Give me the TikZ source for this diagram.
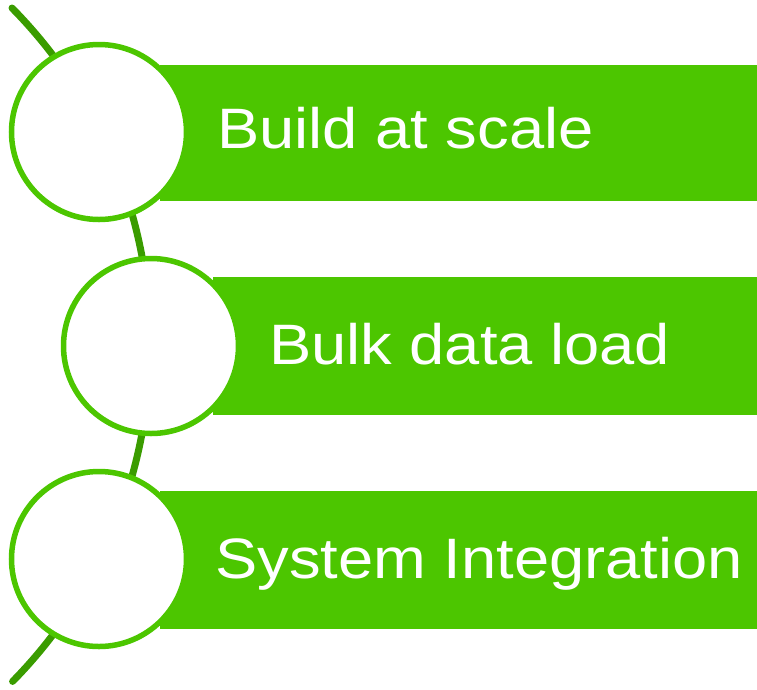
\documentclass[tikz,border=0pt]{standalone}
\usepackage{fontspec}
\newfontfamily\barfont{Liberation Sans}
\definecolor{leaf}{RGB}{76,198,0}
\definecolor{stem}{RGB}{58,156,0}
\begin{document}
\begin{tikzpicture}[x=1pt,y=-1pt,
  bar/.style={fill=leaf},
  ring/.style={draw=leaf,line width=5.5pt,fill=white},
  label/.style={anchor=base west,inner sep=0pt,text=white,font=\barfont\fontsize{57}{57}\selectfont}]
\useasboundingbox (0,0) rectangle (757,689);
\draw[stem,line width=7pt,line cap=round] (12,8) arc[start angle=-44.6,end angle=44.5,radius=480];%stem
\fill[bar] (160,65) rectangle (757,201);
\fill[bar] (213,277) rectangle (757,415);
\fill[bar] (160,491) rectangle (757,629);
\draw[ring] \foreach \x/\y in {99/132,151/346,99/559} {(\x,\y) circle (87.5)};
\node[label] (build) at (217,148) {\scalebox{1.11}[1]{Build at scale}};
\node[label] (bulk) at (269,364) {\scalebox{1.11}[1]{Bulk data load}};
\node[label] (sys) at (215,578) {\scalebox{1.11}[1]{System Integration}};
\end{tikzpicture}
\end{document}
